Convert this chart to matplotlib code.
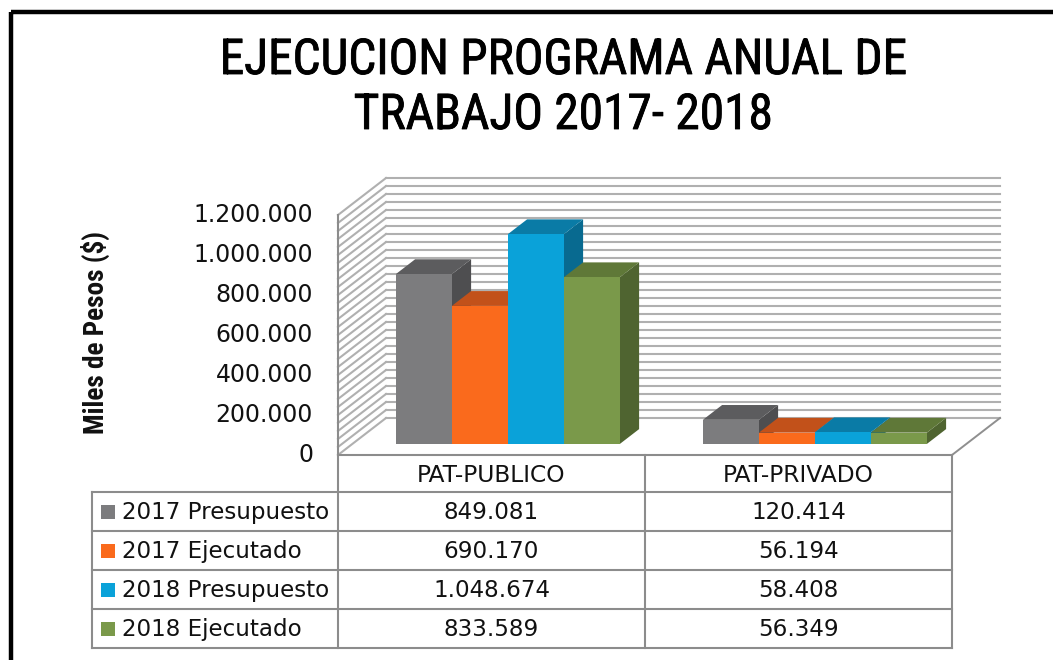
import matplotlib
matplotlib.use('Agg')
import numpy as np
import matplotlib.pyplot as plt
from matplotlib.patches import Polygon, Rectangle
from matplotlib.lines import Line2D
from matplotlib.transforms import Affine2D, blended_transform_factory
from matplotlib import font_manager as fm
import matplotlib.patheffects as pe

# ---------------- data ----------------
categories = ['PAT-PUBLICO', 'PAT-PRIVADO']
series_names = ['2017 Presupuesto', '2017 Ejecutado', '2018 Presupuesto', '2018 Ejecutado']
pres_2017 = [849081, 120414]
ejec_2017 = [690170, 56194]
pres_2018 = [1048674, 58408]
ejec_2018 = [833589, 56349]
yticks = [0, 200000, 400000, 600000, 800000, 1000000, 1200000]
title_lines = ['EJECUCION PROGRAMA ANUAL DE', 'TRABAJO 2017- 2018']
ylabel = 'Miles de Pesos ($)'

series_values = [pres_2017, ejec_2017, pres_2018, ejec_2018]
front_colors = ['#7c7c7e', '#fa6a1c', '#0aa2d9', '#7a994a']
top_colors = ['#5c5c5e', '#c2511a', '#0a7ba6', '#5f7838']
side_colors = ['#4e4e50', '#a84515', '#086a90', '#4f6430']


def fmt(v):
    return f"{v:,}".replace(',', '.')


def pick(cands):
    for c in cands:
        try:
            fm.findfont(fm.FontProperties(family=c), fallback_to_default=False)
            return c
        except Exception:
            pass
    return 'DejaVu Sans'


narrow = pick(['Liberation Sans Narrow', 'DejaVu Sans Condensed', 'Roboto Condensed', 'Liberation Sans'])
plain = 'DejaVu Sans'

# ---------------- figure / geometry ----------------
W, H = 1053, 660
fig = plt.figure(figsize=(W / 100, H / 100), dpi=100)
ax = fig.add_axes([0, 0, 1, 1])
ax.axis('off')

X0 = 338          # px of category 0 on front plane
CAT = 307         # px per category
Y0 = 455          # px of value 0 on front plane
PXV = 240 / 1.2e6 # px per value unit
ax.set_xlim(-X0 / CAT, (W - X0) / CAT)
ax.set_ylim(-(H - Y0) / PXV, Y0 / PXV)
DX = 48 / CAT     # depth shift (category units)
DY = 37 / PXV     # depth shift (value units)

pxT = Affine2D().scale(1 / W, -1 / H).translate(0, 1) + fig.transFigure
xdata_ypx = blended_transform_factory(ax.transData, pxT)
xpx_ydata = blended_transform_factory(pxT, ax.transData)


def P(x, v, d):
    return (x + DX * d, v + DY * d)


ncat = len(categories)
ymax = yticks[-1]
grid_col = '#b0b0b0'
edge_col = '#8f8f8f'

# back wall & side wall gridlines
for v in np.arange(0, ymax + 1, 40000):
    a, b = P(0, v, 1), P(ncat, v, 1)
    ax.add_line(Line2D([a[0], b[0]], [a[1], b[1]], color=grid_col, lw=1.5, zorder=1))
    a, b = P(0, v, 0), P(0, v, 1)
    ax.add_line(Line2D([a[0], b[0]], [a[1], b[1]], color=grid_col, lw=1.5, zorder=1))

# floor right edge
a, b = P(ncat, 0, 0), P(ncat, 0, 1)
ax.add_line(Line2D([a[0], b[0]], [a[1], b[1]], color=edge_col, lw=1.4, zorder=1))

# bars
d0, d1 = 0.30, 0.70
bw = 56 / CAT
for i in range(ncat):
    start = i + 0.5 - 2 * bw + 2 / CAT
    for j, vals in enumerate(series_values):
        v = vals[i]
        xl, xr = start + j * bw, start + (j + 1) * bw
        side = [P(xr, 0, d0), P(xr, v, d0), P(xr, v, d1), P(xr, 0, d1)]
        top = [P(xl, v, d0), P(xr, v, d0), P(xr, v, d1), P(xl, v, d1)]
        front = [P(xl, 0, d0), P(xr, 0, d0), P(xr, v, d0), P(xl, v, d0)]
        ax.add_patch(Polygon(side, closed=True, fc=side_colors[j], ec='none', zorder=3))
        ax.add_patch(Polygon(top, closed=True, fc=top_colors[j], ec='none', zorder=3))
        ax.add_patch(Polygon(front, closed=True, fc=front_colors[j], ec='none', zorder=3))

# ---------------- table ----------------
hdr_top, hdr_bot = 455, 492
row_h = 39
rows_y = [hdr_bot + k * row_h for k in range(len(series_names) + 1)]
tab_left_px = 92
tcol = '#8c8c8c'
tlw = 1.5

# front-left vertical edge: from wall top to table bottom
ax.add_line(Line2D([0, 0], [ymax, -(rows_y[-1] - Y0) / PXV], color=tcol, lw=tlw, zorder=4))
# header top (floor front edge)
ax.add_line(Line2D([0, ncat], [hdr_top, hdr_top], color=tcol, lw=tlw, transform=xdata_ypx, zorder=4))
for c in range(1, ncat + 1):
    ax.add_line(Line2D([c, c], [hdr_top, rows_y[-1]], color=tcol, lw=tlw, transform=xdata_ypx, zorder=4))
for c, name in enumerate(categories):
    ax.text(c + 0.5, (hdr_top + hdr_bot) / 2 + 2, name, transform=xdata_ypx, ha='center', va='center',
            fontsize=16.8, family=plain, color='#111111')

xl_data = (tab_left_px - X0) / CAT
for yy in rows_y:
    ax.add_line(Line2D([xl_data, ncat], [yy, yy], color=tcol, lw=tlw, transform=xdata_ypx, zorder=4))
ax.add_line(Line2D([xl_data, xl_data], [rows_y[0], rows_y[-1]], color=tcol, lw=tlw, transform=xdata_ypx, zorder=4))

for j, name in enumerate(series_names):
    yc = (rows_y[j] + rows_y[j + 1]) / 2
    fig.add_artist(Rectangle((101, yc - 7), 14, 14, transform=pxT, fc=front_colors[j], ec='none'))
    fig.text(122, yc + 1, name, transform=pxT, ha='left', va='center', fontsize=16.6, family=plain, color='#111111')
    for i in range(ncat):
        ax.text(i + 0.5, yc + 1, fmt(series_values[j][i]), transform=xdata_ypx, ha='center', va='center',
                fontsize=16.6, family=plain, color='#111111')

# ---------------- y tick labels ----------------
for t in yticks:
    ax.text(313, t, fmt(t), transform=xpx_ydata, ha='right', va='center', fontsize=17,
            family=plain, color='#111111')

# ---------------- labels / title ----------------
fig.canvas.draw()
renderer = fig.canvas.get_renderer()


def fit_size(text, target_w, size0, **kw):
    t = fig.text(0, 0, text, fontsize=size0, **kw)
    w = t.get_window_extent(renderer).width
    t.remove()
    return size0 * target_w / w


ysz = fit_size(ylabel, 203, 16, family=narrow, weight='bold')
fig.text(95, 333, ylabel, transform=pxT, rotation=90, ha='center', va='center',
         fontsize=ysz, family=narrow, weight='bold', color='#111111')

tsz = fit_size(title_lines[0], 688, 36, family=narrow, weight='normal')
tsz = min(tsz, 40)
thick = [pe.withStroke(linewidth=0.6, foreground='black')]
fig.text(563, 61, title_lines[0], transform=pxT, ha='center', va='center', fontsize=tsz,
         family=narrow, weight='normal', color='black', path_effects=thick)
fig.text(563, 116, title_lines[1], transform=pxT, ha='center', va='center', fontsize=tsz,
         family=narrow, weight='normal', color='black', path_effects=thick)

# outer chart border (left & top visible)
fig.add_artist(Rectangle((11, 12), W + 50, H + 50, transform=pxT, fc='none', ec='black', lw=3.2))

fig.savefig('out.png', dpi=100)
